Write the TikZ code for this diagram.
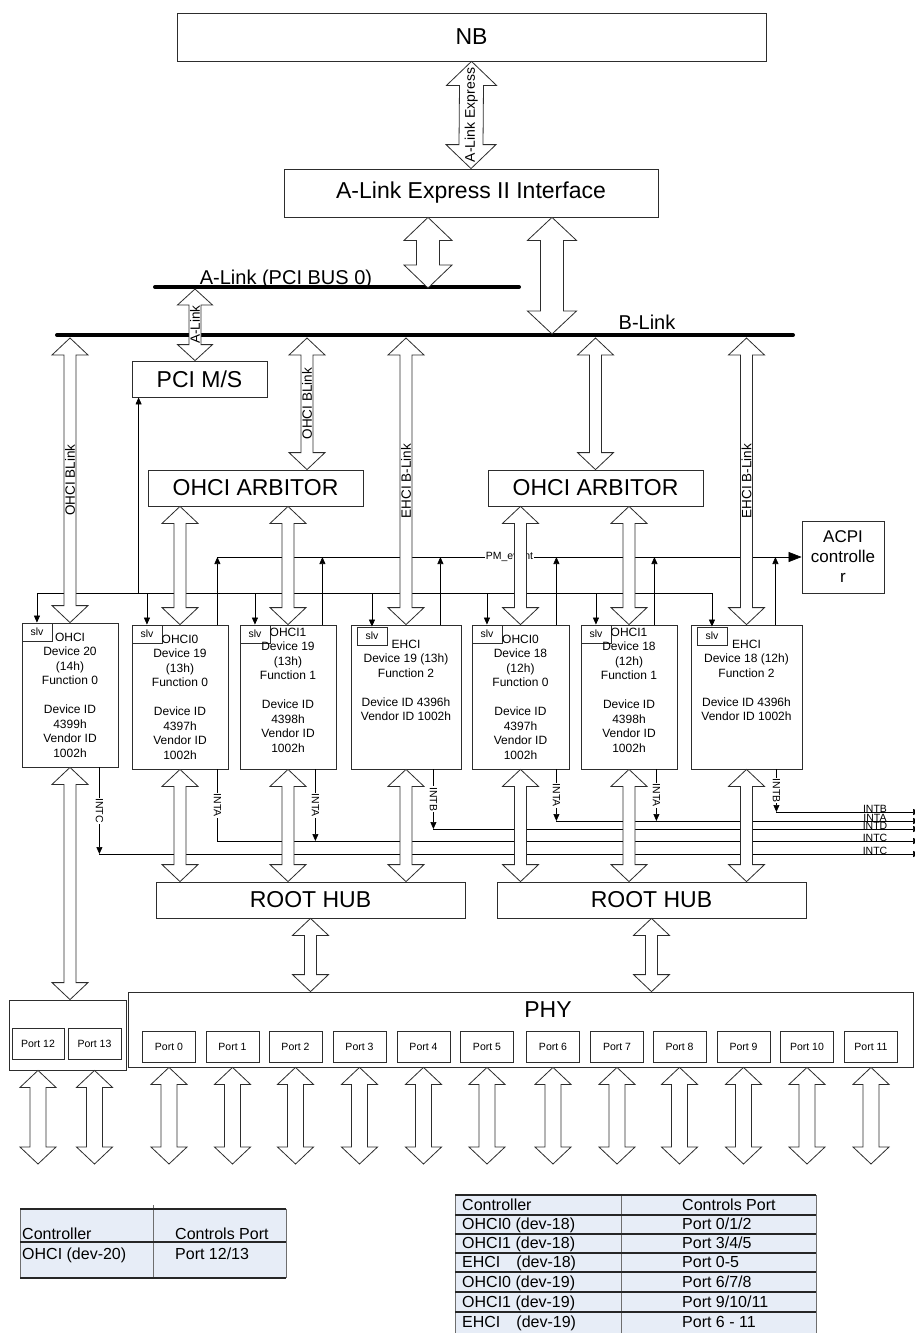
\documentclass[tikz,border=0pt]{standalone}
\usepackage{fontspec}
\setmainfont{Liberation Sans}
\usetikzlibrary{calc,positioning,arrows.meta}
\definecolor{cLine}{RGB}{45,45,45}
\definecolor{cTab}{RGB}{231,237,247}
\definecolor{cTabLn}{RGB}{110,110,110}
\newcommand{\fs}[2]{\fontsize{#1}{#2}\selectfont}
% hollow double block arrow: {top}{bottom}{half shaft}{half head}{head length}
\newcommand{\barr}[5]{%
  \path #1 coordinate (ba-t) #2 coordinate (ba-b);
  \draw[barrow] (ba-t) -- ($(ba-t)+(#4,#5)$) -- ($(ba-t)+(#3,#5)$)
    -- ($(ba-b)+(#3,-#5)$) -- ($(ba-b)+(#4,-#5)$) -- (ba-b)
    -- ($(ba-b)+(-#4,-#5)$) -- ($(ba-b)+(-#3,-#5)$)
    -- ($(ba-t)+(-#3,#5)$) -- ($(ba-t)+(-#4,#5)$) -- cycle;}
\newcommand{\sarr}[2]{\barr{#1}{#2}{6}{18}{17}}
\newcommand{\midlab}[2][13.5]{\node[vlab,font=\fs{#1}{#1}] at ($(ba-t)!0.5!(ba-b)$) {#2};}

\begin{document}
\begin{tikzpicture}[x=1pt,y=-1pt,
   blk/.style={draw=cLine,line width=0.8pt,fill=white,inner sep=0pt,align=center},
   devbox/.style={blk,minimum height=144pt},
   barrow/.style={draw=cLine,line width=0.8pt,fill=white},
   sig/.style={draw=black,line width=0.7pt,-{Triangle[length=7pt,width=6pt]}},
   wire/.style={draw=black,line width=0.7pt},
   bus/.style={line width=4pt,line cap=round},
   slvbox/.style={draw=cLine,line width=0.7pt,fill=white,minimum width=30pt,minimum height=18pt,inner sep=0pt,font=\fs{10.5}{12}},
   devtxt/.style={align=center,inner sep=0pt,anchor=north,font=\fs{12}{14.5}},
   intlab/.style={rotate=-90,fill=white,inner sep=0.8pt,font=\fs{10.5}{12}},
   intr/.style={anchor=base,inner sep=0pt,font=\fs{10.5}{12}},
   vlab/.style={rotate=90,inner sep=0pt},
   portbox/.style={draw=cLine,line width=0.7pt,fill=white,minimum width=53pt,minimum height=31pt,inner sep=0pt,font=\fs{10.5}{12}},
   tabtxt/.style={anchor=base west,inner sep=0pt,font=\fs{16}{18}},
   tabthick/.style={draw=black!85,line width=1.3pt},
   tabthin/.style={draw=cTabLn,line width=0.6pt}]
  \useasboundingbox (0,0) rectangle (914,1333);

  % blocks
  \node[blk,minimum width=589pt,minimum height=48pt,font=\fs{23}{26}] (nb) at (471.5,37) {NB};
  \node[blk,minimum width=374pt,minimum height=48pt,font=\fs{23}{26}] (ali) at (471,193) {A-Link Express II Interface};
  \node[blk,minimum width=135pt,minimum height=36pt,font=\fs{23}{26}] (pci) at (199.5,379) {PCI M/S};
  \node[blk,minimum width=215pt,minimum height=36pt,font=\fs{23}{26}] (arbL) at (255.5,488) {OHCI ARBITOR};
  \node[blk,minimum width=215pt,minimum height=36pt,font=\fs{23}{26}] (arbR) at (595.5,488) {OHCI ARBITOR};
  \node[blk,minimum width=82pt,minimum height=72pt,font=\fs{17}{20}] (acpi) at (843,557) {ACPI\\controlle\\r};

  % controllers
  \node[devbox,minimum width=96pt]  (d20)  at (70,695) {};
  \node[devbox,minimum width=96pt]  (o190) at (180,697) {};
  \node[devbox,minimum width=96pt]  (o191) at (288,697) {};
  \node[devbox,minimum width=110pt] (e19)  at (406,697) {};
  \node[devbox,minimum width=97pt]  (o180) at (520.5,697) {};
  \node[devbox,minimum width=96pt]  (o181) at (629,697) {};
  \node[devbox,minimum width=111pt] (e18)  at (746.5,697) {};
  \node[slvbox,anchor=north west] (s20)  at (d20.north west) {slv};
  \node[slvbox,anchor=north west] (s190) at (o190.north west) {slv};
  \node[slvbox,anchor=north west] (s191) at (o191.north west) {slv};
  \node[slvbox,anchor=north west] (s19e) at ($(e19.north west)+(6,2)$) {slv};
  \node[slvbox,anchor=north west] (s180) at (o180.north west) {slv};
  \node[slvbox,anchor=north west] (s181) at (o181.north west) {slv};
  \node[slvbox,anchor=north west] (s18e) at ($(e18.north west)+(6,2)$) {slv};
  \node[devtxt] at ($(d20.north)+(0,10)$) {OHCI\\Device 20\\(14h)\\Function 0\\[14.5pt]Device ID\\4399h\\Vendor ID\\1002h};
  \node[devtxt] at ($(o190.north)+(0,10)$) {OHCI0\\Device 19\\(13h)\\Function 0\\[14.5pt]Device ID\\4397h\\Vendor ID\\1002h};
  \node[devtxt] at ($(o191.north)+(0,3)$) {OHCI1\\Device 19\\(13h)\\Function 1\\[14.5pt]Device ID\\4398h\\Vendor ID\\1002h};
  \node[devtxt] at ($(e19.north)+(0,15)$) {EHCI\\Device 19 (13h)\\Function 2\\[14.5pt]Device ID 4396h\\Vendor ID 1002h};
  \node[devtxt] at ($(o180.north)+(0,10)$) {OHCI0\\Device 18\\(12h)\\Function 0\\[14.5pt]Device ID\\4397h\\Vendor ID\\1002h};
  \node[devtxt] at ($(o181.north)+(0,3)$) {OHCI1\\Device 18\\(12h)\\Function 1\\[14.5pt]Device ID\\4398h\\Vendor ID\\1002h};
  \node[devtxt] at ($(e18.north)+(0,15)$) {EHCI\\Device 18 (12h)\\Function 2\\[14.5pt]Device ID 4396h\\Vendor ID 1002h};

  % hubs, phy, ports
  \node[blk,minimum width=309pt,minimum height=36pt,font=\fs{23}{26}] (hubL) at (310.5,900) {ROOT HUB};
  \node[blk,minimum width=309pt,minimum height=36pt,font=\fs{23}{26}] (hubR) at (651.5,900) {ROOT HUB};
  \node[blk,minimum width=785pt,minimum height=75pt] (phy) at (520.5,1029.5) {};
  \node[font=\fs{23}{26}] at ($(phy.north)+(27.5,18)$) {PHY};
  \node[blk,minimum width=117pt,minimum height=70pt] (grp) at (67.5,1035) {};
  \foreach \i/\x in {0/169,1/232.5,2/295.5,3/359.5,4/423.5,5/487,6/553,7/617,8/679.5,9/743.5,10/807,11/871}
    \node[portbox] (p\i) at (\x,1046.5) {Port \i};
  \node[portbox,minimum width=52pt] (p12) at (38,1044) {Port 12};
  \node[portbox] (p13) at (94.5,1044) {Port 13};

  % buses
  \coordinate (alL) at (155,287); \coordinate (alR) at (519,287);
  \coordinate (blL) at (57,335);  \coordinate (blR) at (793,335);
  \draw[bus] (alL) -- (alR);
  \draw[bus] (blL) -- (blR);
  \node[font=\fs{20}{22},anchor=base] at (286,284) {A-Link (PCI BUS 0)};
  \node[font=\fs{20}{22},anchor=base] at (647,329) {B-Link};
  \coordinate (alTap) at (428,288);
  \coordinate (alOut) at (195,289);
  \coordinate (blTap) at (552,334);
  \coordinate (blink) at (0,338);
  \coordinate (xarbL) at (307,0);

  % slv strobe
  \coordinate (slvbus) at (0,593);
  \coordinate (tpci) at ($(pci.south west)+(7,0)$);
  \draw[wire] (s20.north |- slvbus) -- (s18e.north |- slvbus);
  \foreach \s in {s20,s190,s191,s19e,s180,s181,s18e}
    \draw[sig] (\s.north |- slvbus) -- (\s.north);
  \draw[sig] (tpci |- slvbus) -- (tpci);

  % PM_event
  \coordinate (pmbus) at (0,557);
  \foreach \n/\d in {o190/11,o191/14,e19/21,o180/13,o181/23,e18/27} {
    \coordinate (pm-\n) at ($(\n.north east)+(-\d,0)$);
    \draw[sig] (pm-\n) -- (pm-\n |- pmbus);
  }
  \draw[black,line width=0.7pt,-{Triangle[length=13pt,width=10pt]}] (pm-o190 |- pmbus) -- (acpi.west)
    node[midway,fill=white,inner sep=0.5pt,font=\fs{10.5}{12}] {PM\_event};

  % interrupts
  \coordinate (intB) at (920,812);
  \coordinate (intA) at (920,821);
  \coordinate (intD) at (920,829);
  \coordinate (intC1) at (920,841);
  \coordinate (intC2) at (920,854);
  \foreach \n/\d in {d20/19,o190/11,o191/21,e19/28,o180/13,o181/21,e18/26}
    \coordinate (i-\n) at ($(\n.south east)+(-\d,0)$);
  \draw[sig] (i-d20) -- (i-d20 |- intC2) node[midway,intlab] {INTC};
  \draw[sig] (i-d20 |- intC2) -- (intC2);
  \draw[sig] (i-o190) |- (intC1) node[pos=0.25,intlab] {INTA};
  \draw[sig] (i-o191) -- (i-o191 |- intC1) node[midway,intlab] {INTA};
  \draw[sig] (i-e19) -- (i-e19 |- intD) node[midway,intlab] {INTB};
  \draw[sig] (i-e19 |- intD) -- (intD);
  \draw[sig] (i-o180) -- (i-o180 |- intA) node[midway,intlab] {INTA};
  \draw[sig] (i-o180 |- intA) -- (intA);
  \draw[sig] (i-o181) -- (i-o181 |- intA) node[midway,intlab] {INTA};
  \draw[sig] (i-e18) -- (i-e18 |- intB) node[midway,intlab] {INTB};
  \draw[sig] (i-e18 |- intB) -- (intB);
  \node[intr] at (875,812) {INTB};
  \node[intr] at (875,821) {INTA};
  \node[intr] at (875,829) {INTD};
  \node[intr] at (875,841) {INTC};
  \node[intr] at (875,854) {INTC};

  % block arrows
  \barr{(nb.south)}{(ali.north)}{12}{25}{24} \midlab[14]{A-Link Express}
  \barr{(ali.south -| alTap)}{(alTap)}{11.5}{24}{23}
  \barr{(ali.south -| blTap)}{(blTap)}{11.5}{24.5}{23}
  \barr{(alOut)}{(pci.north -| alOut)}{6}{17.5}{16} \midlab{A-Link}
  \sarr{(d20.north |- blink)}{(d20.north)} \midlab{OHCI BLink}
  \sarr{(xarbL |- blink)}{(xarbL |- arbL.north)} \midlab{OHCI BLink}
  \sarr{(arbR.north |- blink)}{(arbR.north)}
  \sarr{(e19.north |- blink)}{(e19.north)} \midlab{EHCI B-Link}
  \sarr{(e18.north |- blink)}{(e18.north)} \midlab{EHCI B-Link}
  \foreach \n in {o190,o191} {\sarr{(\n.north |- arbL.south)}{(\n.north)}}
  \foreach \n in {o180,o181} {\sarr{(\n.north |- arbR.south)}{(\n.north)}}
  \foreach \n in {o190,o191,e19} {\sarr{(\n.south)}{(\n.south |- hubL.north)}}
  \foreach \n in {o180,o181,e18} {\sarr{(\n.south)}{(\n.south |- hubR.north)}}
  \sarr{(d20.south)}{(d20.south |- grp.north)}
  \sarr{(hubL.south)}{(hubL.south |- phy.north)}
  \sarr{(hubR.south)}{(hubR.south |- phy.north)}
  \coordinate (portend) at (0,1164);
  \foreach \i in {0,...,11} {\barr{(p\i.south |- phy.south)}{(p\i.south |- portend)}{8}{18}{17}}
  \foreach \i in {12,13} {\barr{(p\i.south |- grp.south)}{(p\i.south |- portend)}{8}{18}{17}}

  % port tables
  \fill[cTab] (20,1209) rectangle (286,1278);
  \draw[tabthin] (20,1209) -- (20,1278) (286,1209) -- (286,1278) (153,1205) -- (153,1278);
  \draw[tabthick] (20,1209) -- (286,1209) (20,1242) -- (286,1242) (20,1278) -- (286,1278);
  \node[tabtxt] at (22,1239) {Controller};
  \node[tabtxt] at (175,1239) {Controls Port};
  \node[tabtxt] at (22,1259) {OHCI (dev-20)};
  \node[tabtxt] at (175,1259) {Port 12/13};

  \fill[cTab] (455,1195) rectangle (816,1340);
  \draw[tabthin] (455,1195) -- (455,1340) (816,1195) -- (816,1340) (621,1195) -- (621,1340);
  \foreach \y in {1195,1215,1234,1253,1272,1292,1312}
    \draw[tabthick] (455,\y) -- (816,\y);
  \foreach \y/\c/\p in {1210/Controller/Controls Port,1229/OHCI0 (dev-18)/Port 0\slash 1\slash 2,
      1248/OHCI1 (dev-18)/Port 3\slash 4\slash 5,1267/EHCI\quad(dev-18)/Port 0-5,
      1287/OHCI0 (dev-19)/Port 6\slash 7\slash 8,1307/OHCI1 (dev-19)/Port 9\slash 10\slash 11,
      1327/EHCI\quad(dev-19)/Port 6 - 11} {
    \node[tabtxt] at (462,\y) {\c};
    \node[tabtxt] at (682,\y) {\p};
  }
\end{tikzpicture}
\end{document}
